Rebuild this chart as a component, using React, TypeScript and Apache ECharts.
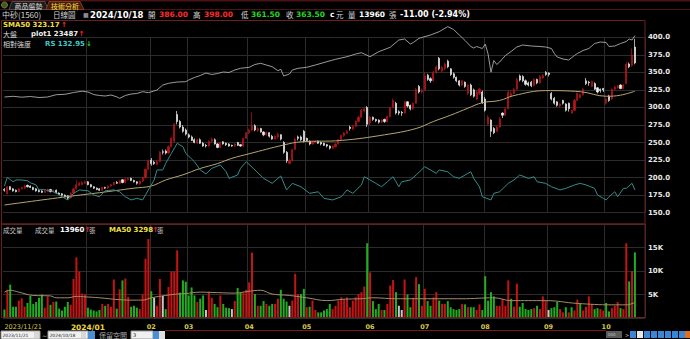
import React, { useEffect, useRef } from "react";
import * as echarts from "echarts";

// [open, close, low, high] per trading day, 2023/11/21 .. 2024/10/18
const candles: number[][] = [
  [183,182,180,185],[177,187,176,188],[187,183,182,188],[184,181,180,185],[182,180,179,183],
  [180,184,179,185],[184,186,183,187],[185,188,184,190],[189,187,186,190],[188,186,185,189],
  [186,183,182,187],[184,181,180,185],[182,180,179,183],[181,179,178,182],[179,181,178,182],
  [180,183,179,184],[183,180,179,184],[180,182,179,183],[182,178,177,183],[178,176,175,179],
  [177,175,174,178],[175,173,172,176],[174,171,168,175],[171,178,170,179],[178,184,177,185],
  [184,190,183,196],[189,192,188,194],[190,193,189,195],[192,194,191,196],[194,190,189,195],
  [190,187,186,191],[187,185,184,188],[185,183,182,186],[184,182,181,185],[182,186,181,187],
  [186,185,184,187],[185,188,184,189],[188,190,187,191],[190,193,189,194],[193,192,191,195],
  [192,196,191,197],[197,193,192,198],[193,198,192,199],[197,199,196,200],[199,196,195,200],
  [196,194,193,197],[194,192,190,195],[191,195,190,196],[195,200,194,201],[200,212,199,213],
  [212,224,211,226],[225,220,217,228],[222,220,218,224],[219,223,218,225],[223,236,222,238],
  [237,236,233,240],[238,235,233,240],[235,244,234,246],[244,256,243,258],[252,276,250,278],
  [290,280,276,295],[280,272,270,282],[272,266,264,275],[268,262,260,270],[261,258,256,263],
  [258,253,252,260],[254,250,249,256],[250,254,248,255],[254,249,248,256],[249,245,244,251],
  [246,245,243,248],[245,252,244,253],[252,255,250,257],[254,248,247,256],[248,243,242,249],
  [243,250,242,251],[251,248,247,252],[249,247,245,250],[248,245,244,249],[246,245,244,247],
  [245,248,244,249],[250,246,245,251],[247,245,244,248],[245,256,244,257],[256,264,255,265],
  [264,268,262,270],[268,274,266,293],[274,268,266,276],[267,270,265,272],[270,265,264,271],
  [265,261,259,266],[261,264,260,266],[264,259,257,265],[259,255,254,261],[255,259,254,260],
  [258,262,256,264],[261,255,253,262],[250,236,234,252],[236,224,221,238],[220,224,219,227],
  [224,240,223,241],[240,255,239,257],[258,256,253,260],[258,254,252,260],[266,252,250,268],
  [256,253,251,257],[252,248,246,253],[248,251,247,252],[250,252,249,253],[252,249,248,253],
  [250,248,246,251],[249,246,245,250],[247,245,243,248],[245,242,240,246],[242,245,241,246],
  [244,248,243,249],[248,254,247,255],[254,260,253,261],[260,264,258,265],[263,266,262,268],
  [272,270,267,274],[269,273,268,275],[273,280,272,282],[280,286,279,288],[286,296,285,298],
  [295,298,293,300],[300,276,272,302],[278,286,275,288],[286,283,281,287],[283,281,279,284],
  [282,279,277,283],[279,282,278,283],[283,280,278,284],[280,287,279,288],[287,300,286,301],
  [300,310,299,313],[306,292,290,308],[294,292,289,296],[293,292,288,295],[292,308,291,309],
  [308,302,300,309],[303,298,296,304],[298,306,297,307],[306,326,305,328],[330,322,320,332],
  [322,325,320,327],[325,345,324,350],[346,340,338,348],[341,338,335,343],[338,350,337,352],
  [350,358,348,360],[370,355,353,372],[352,357,350,359],[355,362,353,364],[366,358,356,368],
  [355,347,345,356],[348,343,341,350],[343,338,336,344],[338,332,330,339],[332,338,331,339],
  [336,330,328,337],[320,332,318,333],[332,318,316,334],[325,316,314,327],[312,322,311,324],
  [320,326,318,328],[322,307,305,324],[312,296,294,315],[276,286,275,289],[282,266,258,283],
  [270,264,262,272],[266,272,265,274],[272,284,271,286],[292,289,285,293],[289,298,288,300],
  [298,322,297,324],[316,320,314,323],[320,326,319,328],[326,340,325,342],[345,339,337,347],
  [344,338,336,346],[338,333,331,340],[335,332,330,337],[336,331,329,338],[331,340,330,342],
  [340,335,333,341],[335,344,334,346],[342,346,341,348],[350,347,345,352],[349,347,344,350],
  [320,312,310,322],[313,306,304,315],[308,303,301,309],[302,305,300,306],[310,306,304,311],
  [305,296,294,306],[306,298,294,307],[292,296,291,297],[296,310,295,312],[310,320,309,321],
  [314,318,313,320],[318,326,317,328],[338,334,332,342],[336,335,331,338],[330,337,329,338],
  [334,326,325,336],[328,322,320,329],[326,324,321,327],[327,325,322,328],[306,312,304,314],
  [316,310,308,318],[312,326,311,327],[326,329,324,331],[328,331,327,332],[332,327,326,333],
  [327,332,326,333],[334,362,333,365],[362,358,356,364],[360,374.5,358,384],[386,363.5,361.5,398],
];
const prevClose0 = 183;

const volumes: number[] = [
  1800,6000,7100,2400,2400,3700,4200,2400,3200,4700,3000,3400,4300,5000,2200,4600,2800,3400,3500,2000,
  1600,2400,3400,2800,8300,12900,9900,5200,5000,2200,1800,1600,1400,1700,3000,2600,3000,2400,8200,2000,
  6100,8000,8400,4500,2400,2600,2200,1900,5000,12600,16800,5700,4300,2600,8300,4700,1900,6600,9900,9900,
  14400,5400,8000,7700,4800,6500,4800,3400,4100,4800,1700,5600,4300,3000,2300,4800,3000,2200,2100,1900,
  3600,6400,5400,5400,6000,7600,13900,5100,2600,2600,3600,3000,2600,3000,3000,4100,6000,4100,3500,2600,
  3700,9400,5100,5100,6200,2300,2400,3700,1700,1200,1200,1600,1900,3000,1900,2600,3700,4400,4000,4400,
  2300,3700,4400,5100,5500,6700,15900,9700,3600,1900,3000,1700,1700,3000,6900,8100,5500,2600,1700,8200,
  5000,2300,4300,8700,7200,2600,6200,3600,2600,4400,5500,3700,3000,3000,3600,2300,1900,1700,1900,3000,
  2900,2300,2300,2300,1700,2900,1700,8900,3700,5500,4600,2600,2600,4100,2600,8000,4100,2400,7300,2400,
  3200,1900,1700,1900,2100,2600,1900,4600,3700,1700,2100,2300,3400,1900,1200,2300,1200,2300,1600,3900,
  3000,1600,2400,4600,3000,1900,2100,1900,1600,3200,1400,2100,2600,3400,2100,1900,15900,7800,10000,13960,
];

// [day index, value]
const sma50: number[][] = [
  [0,161],[22,173],[33,178.5],[45,185],[51,188],[56,196.6],[62,204],[68,213],[74,220],[79,227.5],
  [85,234],[97,246.5],[103,251],[117,253],[132,261],[143,270],[149,280],[155,289],[161,299],[166,306.8],
  [172,310],[177,317],[188,324],[200,322.5],[209,316],[214,317.5],[219,323.17],
];
const market: number[][] = [
  [0,17350],[3,17420],[6,17330],[9,17400],[12,17300],[15,17350],[18,17580],[21,17620],[24,17800],[27,17930],
  [29,17850],[31,17600],[33,17500],[35,17450],[37,17550],[39,17370],[40,17220],[42,17500],[44,17650],[46,17700],
  [48,17880],[50,17780],[53,18050],[55,18550],[57,18720],[60,18850],[63,18880],[64,19050],[66,19300],[68,19500],
  [70,19750],[72,19600],[74,19700],[76,19850],[78,19800],[80,20050],[82,20220],[85,20320],[87,20600],[89,20720],
  [91,20550],[93,20380],[95,19980],[96,20120],[97,19450],[99,19650],[100,20050],[102,20220],[105,20320],[108,20550],
  [112,20880],[115,21120],[119,21380],[122,21650],[124,21780],[125,21650],[127,21380],[130,21880],[134,22320],[137,23050],
  [139,23150],[141,22650],[142,22800],[144,23220],[148,23550],[151,23880],[154,24390],[156,24100],[158,23550],[160,23000],
  [162,22400],[163,22250],[164,22400],[165,22300],[166,22200],[167,22640],[168,21640],[169,19830],[170,21000],[171,20600],
  [172,20850],[174,21500],[176,21900],[178,22350],[180,22550],[183,22450],[186,22400],[188,22350],[190,22200],[191,21700],
  [192,21350],[194,21150],[196,21050],[198,21500],[199,21700],[201,22000],[203,22200],[205,22700],[207,22850],[209,22800],
  [210,22400],[212,22450],[214,22700],[216,22900],[217,23150],[218,23050],[219,23487],
];
const rs: number[][] = [
  [0,137],[1,145.6],[3,141.2],[4,143],[6,143],[8,142.2],[9,140.2],[11,138],[12,133],[13,133.6],
  [16,132.2],[18,130],[20,126.2],[22,123],[24,129.6],[26,133],[29,132.2],[31,128],[33,126.2],[35,132.2],
  [38,133],[40,131.2],[42,126.2],[44,123],[46,124.6],[48,123],[49,128],[52,143],[53,153],[55,153],
  [56,159.6],[58,169.6],[60,179.6],[62,176.2],[63,169.6],[66,161.2],[68,153],[70,149],[72,154.6],[75,158],
  [77,151.2],[78,144.6],[81,148],[82,154.6],[84,161.2],[87,153],[90,144.6],[93,139.6],[96,147],[98,133],
  [100,139.6],[103,136.2],[106,129.6],[109,131.2],[111,124.6],[114,123],[117,126.2],[119,133],[121,129.6],[124,138],
  [125,146.2],[127,143],[129,139.6],[131,136.2],[133,141.2],[135,146.2],[137,136.2],[138,141.2],[141,143],[143,148],
  [146,156.2],[148,153],[150,149.6],[151,153],[154,151.2],[156,146.2],[158,144.6],[161,149.6],[162,151.2],[163,144.6],
  [165,136.2],[166,126.2],[169,123],[170,129.6],[172,131.2],[175,139.6],[177,143],[179,148],[182,144.6],[184,146.2],
  [185,141.2],[188,139.6],[190,136.2],[193,133],[195,134.6],[198,138],[200,139.6],[202,138],[205,134.6],[206,128],
  [208,124.6],[209,123],[210,126.2],[212,131.2],[213,126.2],[215,134.6],[216,134.6],[218,139.6],[219,132.95],
];
const volMa50: number[][] = [
  [0,5500],[2,5900],[5,5500],[10,4800],[16,4700],[18,4300],[22,4300],[25,4600],[28,4500],[33,4300],
  [40,3900],[45,3800],[48,3800],[51,4300],[56,4800],[60,5100],[63,5200],[68,5500],[74,5400],[80,5300],
  [85,5700],[89,5900],[93,5100],[99,4800],[105,4300],[112,3700],[118,4000],[124,4100],[128,4300],[136,4100],
  [147,4100],[159,4100],[170,4300],[176,3700],[188,3700],[199,3100],[211,2800],[216,2800],[219,3298],
];
const tickIndex = [0, 29, 51, 64, 85, 105, 127, 146, 167, 189, 209];
const tickLabels = ["2023/11/21", "2024/01", "02", "03", "04", "05", "06", "07", "08", "09", "10"];
const priceTicks = { min: 150, max: 400, step: 25 };
const volTicks = { min: 0, max: 20000, step: 5000 };
const EXTRA_SLOTS = 3;

const CJK = "'Noto Sans CJK TC', 'Noto Sans CJK SC', sans-serif";
const NUM = "'DejaVu Sans', Verdana, sans-serif";
const RED = "#ff2a2a";
const GRN = "#22d822";
const BORDER = "#6a2020";
const GRID = "#2c2c2c";

function t(text: string, x: number, y: number, fill: string, size: number, bold = false, family = NUM, align = "left"): any {
  return {
    type: "text", x, y, z: 20, silent: true,
    style: {
      text, fill, font: `${bold ? "bold " : ""}${size}px ${family}`,
      textAlign: align, textVerticalAlign: "middle", align, verticalAlign: "middle",
    },
  };
}
function r(x: number, y: number, w: number, h: number, fill: string, stroke?: string): any {
  return { type: "rect", z: 20, silent: true, shape: { x, y, width: w, height: h }, style: { fill, stroke: stroke || null, lineWidth: 1 } };
}

export default function App() {
  const ref = useRef<HTMLDivElement>(null);
  useEffect(() => {
    const chart = echarts.init(ref.current!, null, { renderer: "svg" });
    const n = candles.length;
    const cats = Array.from({ length: n + EXTRA_SLOTS }, (_, i) => String(i));
    const tickMap = new Map<number, string>();
    tickIndex.forEach((ix, k) => tickMap.set(ix, tickLabels[k]));

    const volData = volumes.map((v, i) => {
      const c = candles[i][1];
      const p = i === 0 ? prevClose0 : candles[i - 1][1];
      const color = c > p ? "#c41414" : c < p ? "#1fae1f" : "#c8c8c8";
      return { value: v, itemStyle: { color } };
    });

    const last = candles[n - 1];
    const prev = candles[n - 2][1];
    const chg = last[1] - prev;
    const pct = (chg / prev) * 100;
    const f2 = (v: number) => v.toFixed(2);

    const hy = 14.5;
    const graphic: any[] = [
      // top strip & tabs
      r(0, 0, 690, 1.5, "#4a1212"),
      { type: "line", z: 20, silent: true, shape: { x1: 0, y1: 9.5, x2: 690, y2: 9.5 }, style: { stroke: "#4a1515", lineWidth: 1 } },
      { type: "circle", z: 21, silent: true, shape: { cx: 4.5, cy: 5, r: 3 }, style: { fill: "#3d5a22", stroke: "#7a9a48", lineWidth: 0.8 } },
      { type: "polygon", z: 20, silent: true, shape: { points: [[9, 9.5], [12, 1.5], [45, 1.5], [48, 9.5]] }, style: { fill: "#1c1c1c", stroke: "#5a5a5a", lineWidth: 0.8 } },
      { type: "polygon", z: 20, silent: true, shape: { points: [[46, 9.5], [49, 1.5], [80, 1.5], [84, 9.5]] }, style: { fill: "#4e1a0e", stroke: "#8a4a22", lineWidth: 0.8 } },
      t("商品盤勢", 28.5, 5.5, "#d8d8d8", 7, false, CJK, "center"),
      t("技術分析", 65, 5.5, "#f2e040", 7, false, CJK, "center"),
      // header row
      t("中砂(1560)", 2, hy, "#d4d4d4", 8, false, CJK),
      t("日線圖", 53, hy, "#d4d4d4", 7.5, false, CJK),
      t("■", 83, hy, "#8a8a8a", 6, false, NUM),
      t("2024/10/18", 90, hy, "#ffffff", 8.5, true),
      t("開", 148, hy, "#d4d4d4", 7.5, false, CJK),
      t(f2(last[0]), 159, hy, RED, 7.5, true),
      t("高", 193, hy, "#d4d4d4", 7.5, false, CJK),
      t(f2(last[3]), 204, hy, RED, 7.5, true),
      t("低", 241, hy, "#d4d4d4", 7.5, false, CJK),
      t(f2(last[2]), 251, hy, GRN, 7.5, true),
      t("收", 286, hy, "#d4d4d4", 7.5, false, CJK),
      t(f2(last[1]), 296, hy, GRN, 7.5, true),
      t("c", 330, hy, "#ffffff", 7.5, true),
      t("元", 336, hy, "#d4d4d4", 7.5, false, CJK),
      t("量", 348, hy, "#d4d4d4", 7.5, false, CJK),
      t(String(volumes[n - 1]), 359, hy, "#ffffff", 7.5, true),
      t("張", 389, hy, "#d4d4d4", 7.5, false, CJK),
      t(`${f2(chg)} (${f2(pct)}%)`, 400, hy, "#ffffff", 8, true),
      // panel borders
      { type: "rect", z: 19, silent: true, shape: { x: 1.5, y: 20.5, width: 643.5, height: 203.5 }, style: { fill: "none", stroke: BORDER, lineWidth: 1 } },
      { type: "rect", z: 19, silent: true, shape: { x: 1.5, y: 224, width: 643.5, height: 93.5 }, style: { fill: "none", stroke: BORDER, lineWidth: 1 } },
      // main legends
      t(`SMA50 ${f2(sma50[sma50.length - 1][1])}`, 3, 25, "#f0e040", 7, true),
      t("↑", 61, 25, RED, 7, true),
      t("大盤", 3, 34.3, "#d8d8d8", 7, false, CJK),
      t(`plot1 ${market[market.length - 1][1]}`, 31, 34.3, "#f0f0f0", 7, true),
      t("↑", 78.5, 34.3, RED, 7, true),
      t("相對強度", 3, 43.7, "#d8d8d8", 7, false, CJK),
      t(`RS ${f2(rs[rs.length - 1][1])}`, 45, 43.7, "#40c8c8", 7, true),
      t("↓", 86, 43.7, GRN, 7, true),
      // volume legends
      t("成交量", 3, 229.5, "#c8c8c8", 6.5, false, CJK),
      t("成交量", 35, 229.5, "#c8c8c8", 6.5, false, CJK),
      t(String(volumes[n - 1]), 60, 229.5, "#ffffff", 7, true),
      t("↑", 84.5, 229.5, RED, 7, true),
      t("張", 89, 229.5, "#c8c8c8", 6.5, false, CJK),
      t(`MA50 ${volMa50[volMa50.length - 1][1]}`, 109, 229.5, "#f0e040", 7, true),
      t("↑", 152.5, 229.5, RED, 7, true),
      t("張", 157, 229.5, "#c8c8c8", 6.5, false, CJK),
      // bottom toolbar
      { type: "line", z: 20, silent: true, shape: { x1: 165, y1: 330.5, x2: 606, y2: 330.5 }, style: { stroke: "#7a1a1a", lineWidth: 1 } },
      r(1, 331, 39, 8, "#f0f0f0", "#9a9a9a"),
      t("2023/11/21", 2.5, 335, "#202020", 4.5, false),
      r(34, 332, 5, 6, "#d8d8d8"),
      t("~", 42, 335, "#c0c0c0", 6, false),
      r(48, 331, 40, 8, "#f0f0f0", "#9a9a9a"),
      t("2024/10/18", 49.5, 335, "#202020", 4.5, false),
      r(81, 332, 5, 6, "#d8d8d8"),
      r(88, 331, 7, 8, "#4a8ed4"),
      t("保留空間", 99, 335, "#a8a8a8", 7, false, CJK),
      r(131, 331, 22, 8, "#f0f0f0", "#9a9a9a"),
      t("3", 133, 335, "#202020", 5, false),
      r(153, 331, 6, 8, "#4a8ed4"),
      r(159, 331, 6, 8, "#e0e0e0"),
      r(606, 331, 16, 7, "#5a5a5a"),
      t("000", 608, 334.5, "#c0c0c0", 4, false),
      t(">", 625, 334.5, "#c0c0c0", 5, false),
      r(630, 331, 6, 7, "#3a86d6"), r(637, 331, 6, 7, "#e8e8e8"), r(644, 331, 6, 7, "#3a86d6"),
      r(651, 331, 6, 7, "#3a86d6"), r(658, 331, 6, 7, "#3a86d6"), r(665, 331, 6, 7, "#3a86d6"),
      r(672, 331, 6, 7, "#3a86d6"), r(679, 331, 6, 7, "#3a86d6"), r(685, 331, 5, 7, "#e07020"),
    ];

    const splitFn = (idx: number) => tickMap.has(idx) && idx > 0;

    const option: any = {
      animation: false,
      backgroundColor: "#000000",
      grid: [
        { left: 3, right: 45, top: 37.3, height: 175.4 },
        { left: 3, right: 45, top: 224, height: 94 },
      ],
      xAxis: [
        {
          type: "category", gridIndex: 0, data: cats, boundaryGap: true,
          axisLine: { show: false }, axisTick: { show: false }, axisLabel: { show: false },
          splitLine: { show: true, interval: splitFn, lineStyle: { color: GRID, width: 1 } },
        },
        {
          type: "category", gridIndex: 1, data: cats, boundaryGap: true,
          axisLine: { show: false }, axisTick: { show: false },
          splitLine: { show: true, interval: splitFn, lineStyle: { color: GRID, width: 1 } },
          axisLabel: {
            show: true,
            interval: (idx: number) => tickMap.has(idx),
            formatter: (v: string) => {
              const lab = tickMap.get(Number(v)) || "";
              if (Number(v) === tickIndex[0]) return `{a|${lab}}`;
              if (Number(v) === tickIndex[1]) return `{b|${lab}}`;
              return lab;
            },
            color: "#d8c848", fontSize: 6.5, fontWeight: "bold", fontFamily: NUM, margin: 5,
            alignMinLabel: "left",
            rich: {
              a: { color: "#d8c848", fontSize: 6.5, fontWeight: "normal", fontFamily: NUM },
              b: { color: "#f0d840", fontSize: 7.5, fontWeight: "bold", fontFamily: NUM },
            },
          },
        },
      ],
      yAxis: [
        {
          type: "value", gridIndex: 0, position: "right",
          min: priceTicks.min, max: priceTicks.max, interval: priceTicks.step,
          axisLine: { show: false }, axisTick: { show: false },
          axisLabel: { color: "#e8e8e8", fontSize: 7, fontWeight: "bold", fontFamily: NUM, margin: 3, formatter: (v: number) => v.toFixed(1) },
          splitLine: { lineStyle: { color: GRID, width: 1 } },
        },
        { type: "value", gridIndex: 0, min: 5780, max: 23320, show: false },
        { type: "value", gridIndex: 0, min: 110.25, max: 285.65, show: false },
        {
          type: "value", gridIndex: 1, position: "right",
          min: volTicks.min, max: volTicks.max, interval: volTicks.step,
          axisLine: { show: false }, axisTick: { show: false },
          axisLabel: {
            color: "#e8e8e8", fontSize: 7, fontWeight: "bold", fontFamily: NUM, margin: 3,
            formatter: (v: number) => (v === volTicks.min || v === volTicks.max ? "" : `${v / 1000}K`),
          },
          splitLine: { lineStyle: { color: GRID, width: 1 } },
        },
      ],
      series: [
        {
          type: "candlestick", xAxisIndex: 0, yAxisIndex: 0, data: candles, barWidth: 1.6, clip: false,
          itemStyle: { color: "#b8141a", color0: "#eeeeee", borderColor: "#b8141a", borderColor0: "#eeeeee", borderWidth: 0.7 },
        },
        {
          type: "line", xAxisIndex: 0, yAxisIndex: 0, data: sma50, smooth: 0.4, symbol: "none", clip: false,
          lineStyle: { color: "#b8a670", width: 1 },
        },
        {
          type: "line", xAxisIndex: 0, yAxisIndex: 1, data: market, symbol: "none", clip: false,
          lineStyle: { color: "#ababab", width: 0.9 },
        },
        {
          type: "line", xAxisIndex: 0, yAxisIndex: 2, data: rs, symbol: "none", clip: false,
          lineStyle: { color: "#358c8c", width: 1 },
        },
        {
          type: "bar", xAxisIndex: 1, yAxisIndex: 3, data: volData, barWidth: 2,
        },
        {
          type: "line", xAxisIndex: 1, yAxisIndex: 3, data: volMa50, smooth: 0.4, symbol: "none",
          lineStyle: { color: "#a48c68", width: 1 },
        },
      ],
      graphic,
    };
    chart.setOption(option);
    return () => chart.dispose();
  }, []);
  return <div ref={ref} style={{ position: "fixed", left: 0, top: 0, width: 690, height: 339, background: "#000" }} />;
}
